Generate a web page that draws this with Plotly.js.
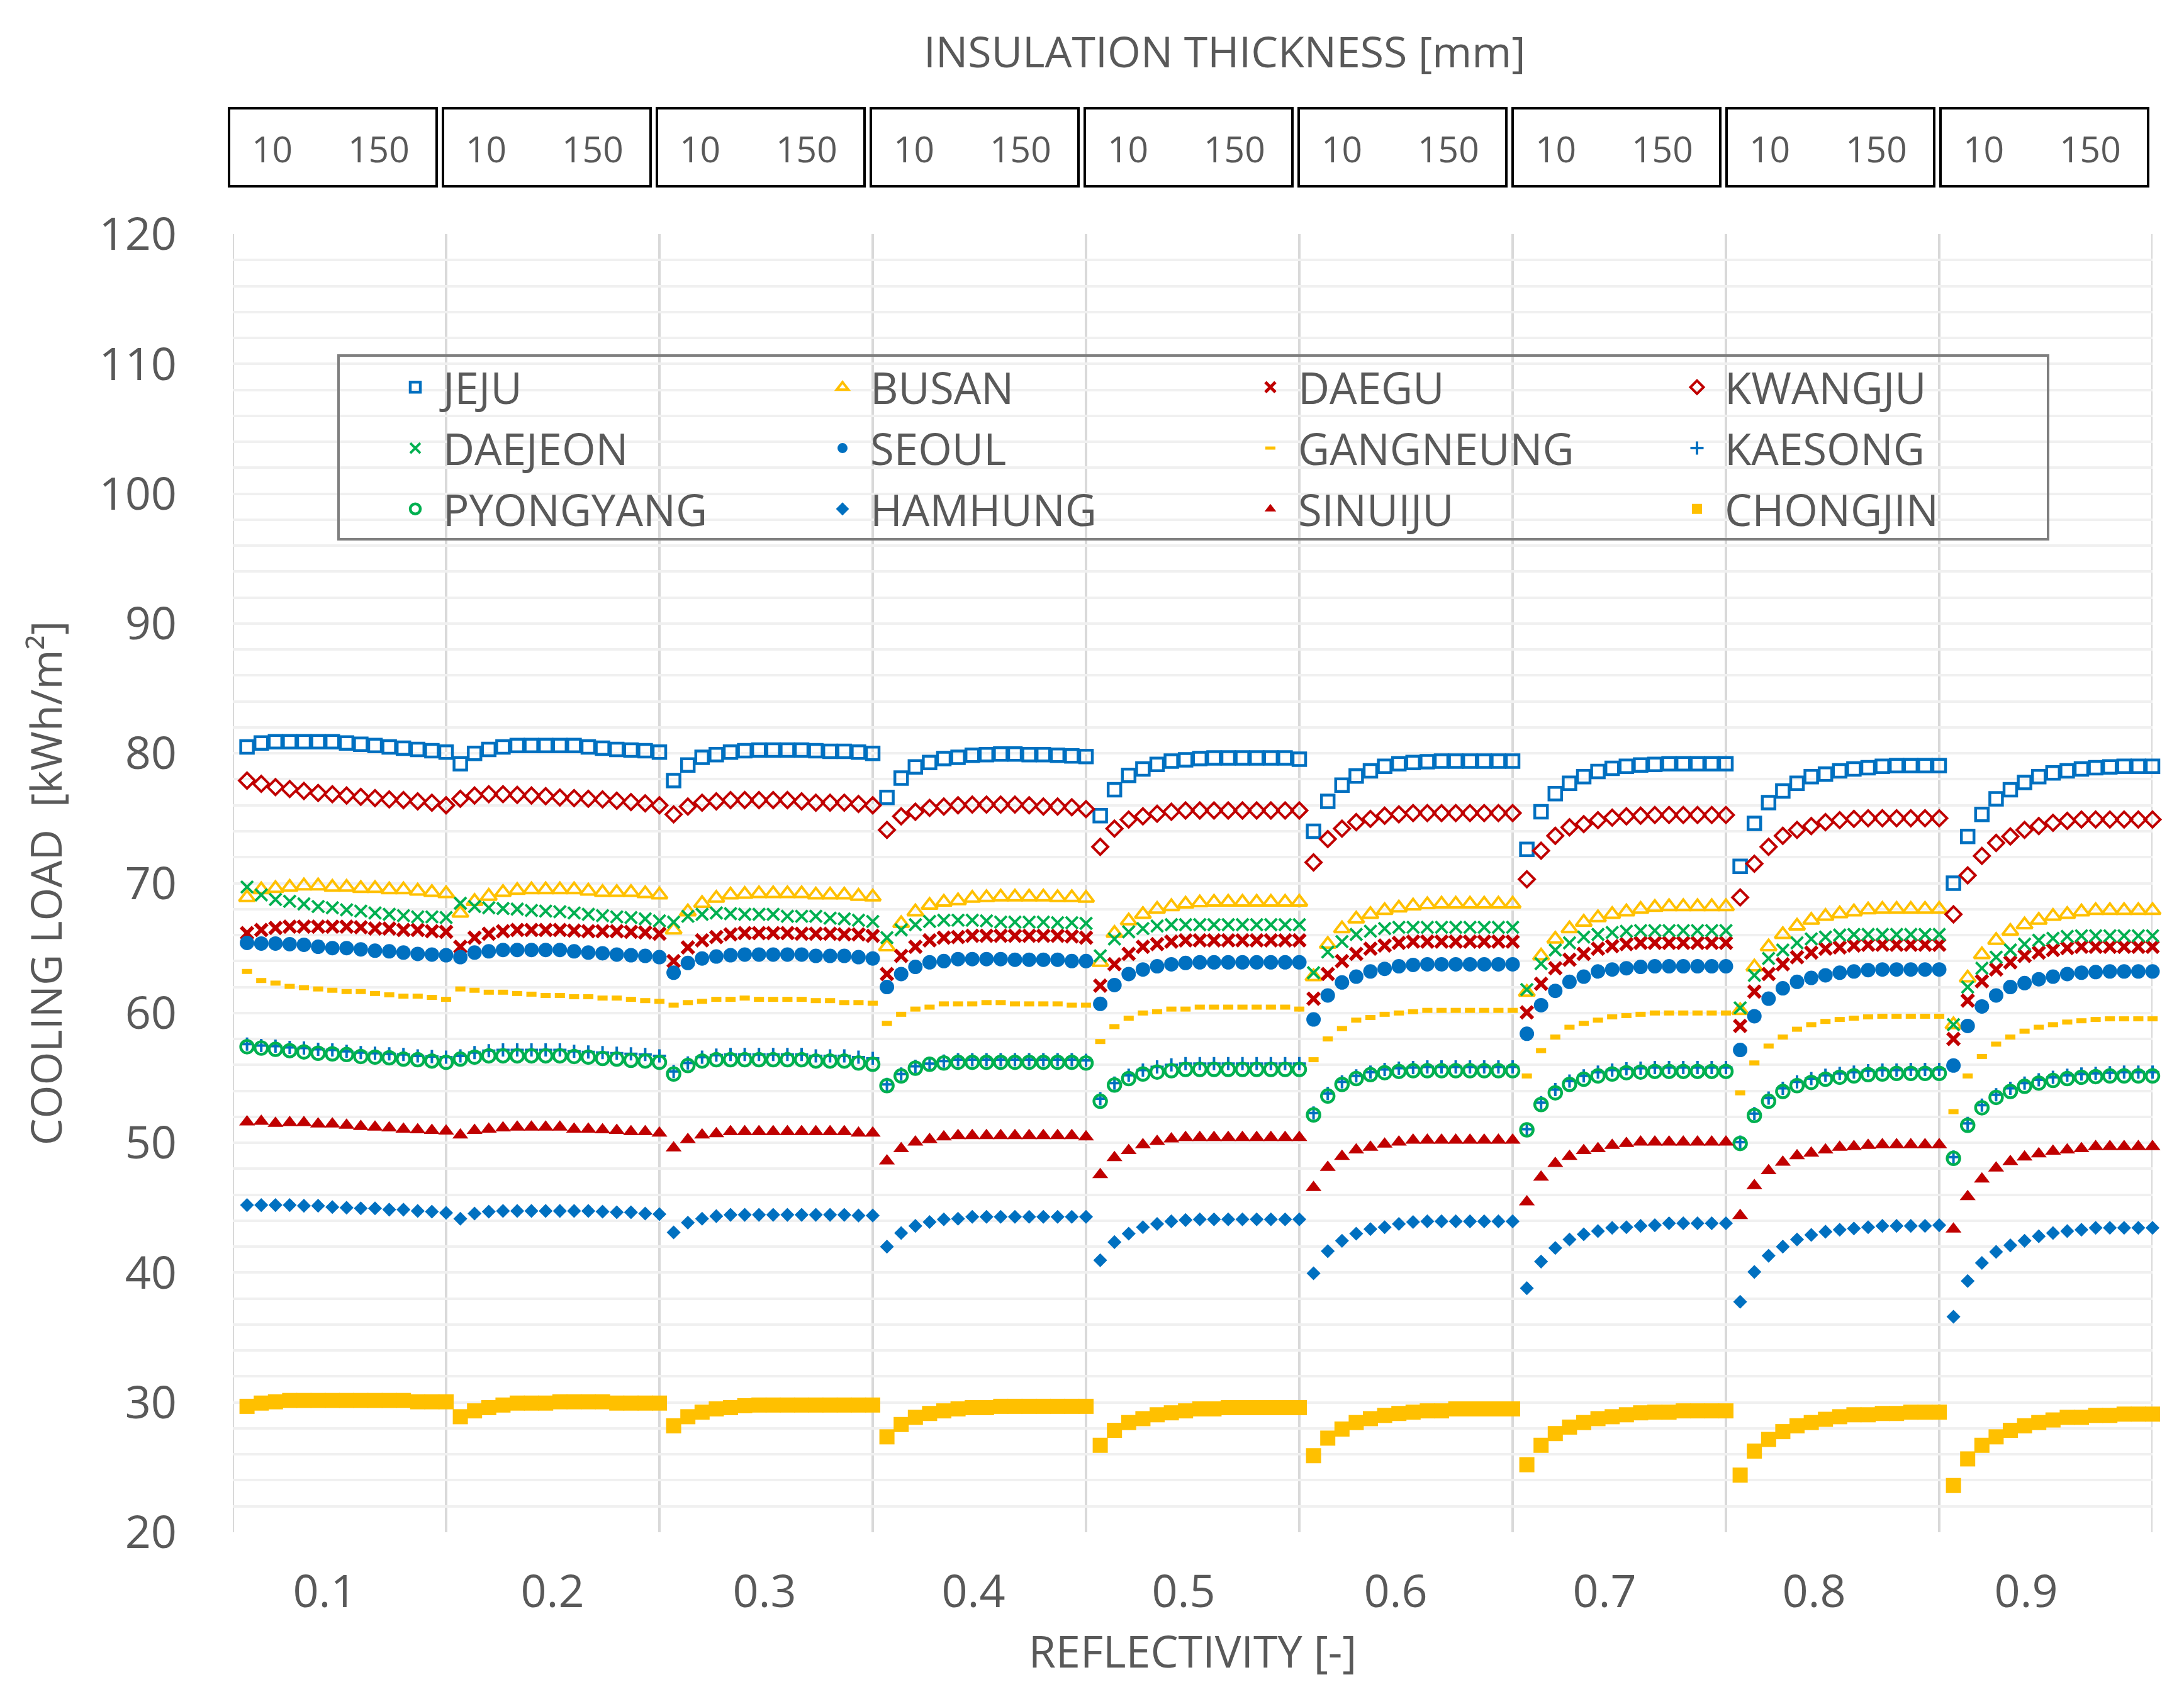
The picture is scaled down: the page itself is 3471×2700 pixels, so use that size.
<!DOCTYPE html>
<html><head><meta charset="utf-8">
<script src="https://cdn.plot.ly/plotly-3.0.1.min.js"></script>
<style>html,body{margin:0;padding:0;background:#fff}#chart{width:3471px;height:2700px}</style>
</head><body><div id="chart"></div>
<script>
// ---------------- DATA ----------------
const reflectivity = ['0.1','0.2','0.3','0.4','0.5','0.6','0.7','0.8','0.9'];
const thicknessLabels = ['10','150'];
const pointsPerGroup = 15; // 10..150 mm in 10 mm steps

const JEJU = [
80.5,80.8,80.9,80.9,80.9,80.9,80.9,80.8,80.7,80.6,80.5,80.4,80.3,80.2,80.1,
79.2,80.0,80.3,80.5,80.6,80.6,80.6,80.6,80.6,80.5,80.4,80.3,80.25,80.2,80.1,
77.9,79.1,79.7,79.9,80.1,80.2,80.25,80.25,80.25,80.25,80.2,80.15,80.15,80.1,80.0,
76.6,78.1,78.95,79.3,79.6,79.7,79.85,79.9,79.95,79.95,79.9,79.9,79.85,79.8,79.75,
75.2,77.2,78.3,78.8,79.15,79.4,79.5,79.6,79.65,79.65,79.65,79.65,79.65,79.65,79.55,
74.0,76.3,77.55,78.25,78.65,79.0,79.2,79.3,79.35,79.4,79.4,79.4,79.4,79.4,79.4,
72.6,75.5,76.9,77.7,78.2,78.6,78.85,79.0,79.1,79.15,79.2,79.2,79.2,79.2,79.2,
71.3,74.6,76.2,77.1,77.7,78.2,78.4,78.65,78.8,78.9,79.0,79.05,79.05,79.05,79.05,
70.0,73.6,75.3,76.5,77.2,77.75,78.2,78.5,78.65,78.8,78.9,78.95,79.0,79.0,79.0];

const BUSAN = [
68.9,69.5,69.6,69.7,69.8,69.8,69.7,69.7,69.6,69.6,69.5,69.5,69.4,69.3,69.2,
67.7,68.6,69.0,69.3,69.45,69.5,69.5,69.5,69.5,69.4,69.3,69.3,69.3,69.2,69.1,
66.4,67.8,68.45,68.85,69.1,69.15,69.2,69.2,69.2,69.2,69.1,69.1,69.1,69.0,68.95,
65.1,66.9,67.8,68.3,68.55,68.65,68.85,68.9,68.95,68.95,68.95,68.95,68.9,68.9,68.85,
63.9,66.15,67.1,67.6,68.0,68.2,68.4,68.5,68.55,68.55,68.55,68.55,68.55,68.55,68.55,
62.8,65.3,66.5,67.25,67.6,67.9,68.1,68.25,68.35,68.4,68.4,68.4,68.4,68.4,68.4,
61.6,64.4,65.7,66.5,67.0,67.35,67.6,67.8,68.0,68.15,68.2,68.2,68.2,68.2,68.2,
60.2,63.55,65.1,66.05,66.7,67.15,67.45,67.65,67.8,67.95,68.0,68.0,68.0,68.0,68.0,
59.1,62.7,64.5,65.6,66.3,66.8,67.15,67.45,67.6,67.8,67.9,67.9,67.9,67.9,67.9];

const DAEGU = [
66.15,66.4,66.55,66.65,66.65,66.65,66.65,66.65,66.6,66.5,66.5,66.4,66.4,66.3,66.25,
65.1,65.8,66.1,66.3,66.4,66.4,66.4,66.4,66.35,66.3,66.3,66.3,66.25,66.2,66.1,
64.0,65.05,65.6,65.85,66.05,66.15,66.15,66.15,66.15,66.1,66.1,66.1,66.05,66.05,65.95,
63.0,64.4,65.1,65.6,65.8,65.85,65.95,65.95,65.95,65.95,65.95,65.95,65.95,65.9,65.8,
62.1,63.75,64.55,65.1,65.3,65.5,65.6,65.6,65.6,65.6,65.6,65.6,65.6,65.6,65.6,
61.1,63.0,64.0,64.55,64.95,65.2,65.4,65.5,65.5,65.5,65.5,65.5,65.5,65.5,65.5,
60.05,62.25,63.45,64.1,64.55,64.95,65.15,65.3,65.4,65.4,65.4,65.4,65.4,65.4,65.4,
59.0,61.65,63.0,63.75,64.3,64.65,64.95,65.05,65.2,65.25,65.25,65.25,65.25,65.25,65.25,
58.0,60.95,62.45,63.35,63.9,64.4,64.65,64.85,65.0,65.1,65.1,65.1,65.1,65.1,65.1];

const KWANGJU = [
77.9,77.65,77.4,77.25,77.1,76.95,76.85,76.75,76.65,76.55,76.45,76.4,76.3,76.2,76.0,
76.5,76.75,76.85,76.85,76.8,76.75,76.7,76.6,76.55,76.5,76.45,76.35,76.25,76.15,76.0,
75.3,75.9,76.2,76.3,76.4,76.4,76.4,76.4,76.4,76.3,76.2,76.2,76.2,76.1,76.0,
74.1,75.15,75.5,75.8,75.9,76.0,76.05,76.05,76.05,76.05,76.0,75.9,75.9,75.85,75.7,
72.8,74.2,74.9,75.15,75.35,75.5,75.6,75.6,75.6,75.6,75.6,75.6,75.6,75.6,75.6,
71.6,73.4,74.2,74.7,74.95,75.2,75.3,75.4,75.4,75.4,75.4,75.4,75.4,75.4,75.4,
70.3,72.5,73.65,74.3,74.55,74.85,75.05,75.15,75.2,75.25,75.25,75.25,75.25,75.25,75.25,
68.9,71.5,72.8,73.65,74.1,74.4,74.7,74.85,74.95,75.0,75.0,75.0,75.0,75.0,75.0,
67.6,70.6,72.1,73.1,73.6,74.1,74.4,74.65,74.8,74.9,74.9,74.9,74.9,74.9,74.9];

const DAEJEON = [
69.7,69.1,68.75,68.6,68.4,68.2,68.1,67.95,67.85,67.7,67.6,67.5,67.4,67.4,67.35,
68.45,68.2,68.1,68.05,68.0,67.9,67.85,67.8,67.7,67.6,67.5,67.4,67.35,67.25,67.1,
67.0,67.45,67.6,67.7,67.65,67.6,67.6,67.6,67.45,67.45,67.45,67.3,67.25,67.15,67.05,
65.8,66.4,66.8,67.05,67.15,67.15,67.15,67.1,67.0,67.0,67.0,67.0,66.95,66.95,66.9,
64.4,65.7,66.25,66.5,66.7,66.8,66.8,66.8,66.8,66.8,66.8,66.8,66.8,66.8,66.8,
63.1,64.7,65.5,66.05,66.3,66.5,66.6,66.6,66.6,66.6,66.6,66.6,66.6,66.6,66.6,
61.8,63.8,64.85,65.4,65.85,66.05,66.2,66.3,66.35,66.35,66.35,66.35,66.35,66.35,66.35,
60.4,62.9,64.2,64.85,65.4,65.7,65.85,66.0,66.05,66.05,66.05,66.05,66.05,66.05,66.05,
59.1,62.0,63.45,64.3,64.85,65.3,65.6,65.75,65.9,65.95,65.95,65.95,65.95,65.95,65.95];

const SEOUL = [
65.4,65.35,65.35,65.3,65.25,65.1,65.0,65.0,64.9,64.8,64.75,64.65,64.55,64.5,64.45,
64.3,64.65,64.75,64.85,64.85,64.85,64.85,64.85,64.75,64.65,64.6,64.5,64.45,64.4,64.3,
63.1,63.85,64.2,64.35,64.45,64.5,64.5,64.5,64.5,64.5,64.4,64.4,64.4,64.3,64.2,
62.0,63.0,63.55,63.9,64.0,64.15,64.15,64.15,64.15,64.1,64.1,64.1,64.1,64.0,64.0,
60.7,62.15,63.0,63.35,63.6,63.75,63.85,63.9,63.9,63.9,63.9,63.9,63.9,63.9,63.9,
59.5,61.35,62.35,62.8,63.2,63.4,63.6,63.7,63.75,63.75,63.75,63.75,63.75,63.75,63.75,
58.4,60.6,61.7,62.4,62.8,63.2,63.35,63.45,63.55,63.6,63.6,63.6,63.6,63.6,63.6,
57.15,59.75,61.1,61.9,62.4,62.7,62.9,63.1,63.2,63.3,63.35,63.35,63.35,63.35,63.35,
55.95,59.0,60.5,61.35,62.0,62.3,62.6,62.8,63.0,63.1,63.15,63.2,63.2,63.2,63.2];

const GANGNEUNG = [
63.2,62.5,62.3,62.05,61.95,61.85,61.75,61.65,61.65,61.5,61.4,61.3,61.3,61.2,61.05,
61.85,61.75,61.6,61.6,61.5,61.45,61.35,61.35,61.25,61.25,61.15,61.15,61.05,60.95,60.9,
60.6,60.8,60.9,61.05,61.05,61.15,61.05,61.05,61.05,61.05,60.95,60.95,60.8,60.8,60.75,
59.2,59.9,60.3,60.45,60.7,60.7,60.7,60.8,60.8,60.7,60.7,60.7,60.7,60.6,60.6,
57.8,58.95,59.6,60.0,60.1,60.3,60.3,60.45,60.45,60.45,60.45,60.45,60.45,60.45,60.3,
56.4,58.0,58.8,59.45,59.65,59.9,60.0,60.1,60.2,60.2,60.2,60.2,60.2,60.2,60.2,
55.15,57.1,58.15,58.9,59.2,59.45,59.7,59.8,59.9,60.0,60.0,60.0,60.0,60.0,60.0,
53.85,56.15,57.45,58.15,58.75,59.1,59.35,59.5,59.6,59.7,59.75,59.75,59.75,59.75,59.75,
52.4,55.15,56.65,57.6,58.15,58.6,58.9,59.1,59.3,59.4,59.5,59.55,59.55,59.55,59.55];

const KAESONG = [
57.6,57.5,57.45,57.35,57.3,57.2,57.15,57.05,56.95,56.9,56.85,56.8,56.7,56.65,56.6,
56.7,56.95,57.1,57.15,57.15,57.15,57.15,57.15,57.05,57.0,56.95,56.9,56.85,56.8,56.7,
55.5,56.15,56.6,56.75,56.8,56.8,56.8,56.8,56.8,56.8,56.7,56.7,56.7,56.6,56.5,
54.5,55.3,55.9,56.1,56.3,56.4,56.4,56.4,56.4,56.4,56.4,56.4,56.4,56.4,56.35,
53.4,54.6,55.2,55.6,55.85,56.0,56.1,56.1,56.1,56.1,56.1,56.1,56.1,56.1,56.1,
52.3,53.8,54.7,55.15,55.45,55.65,55.75,55.8,55.85,55.85,55.85,55.85,55.85,55.85,55.85,
51.05,53.1,54.1,54.75,55.15,55.45,55.6,55.7,55.75,55.8,55.8,55.8,55.8,55.8,55.8,
50.05,52.25,53.45,54.2,54.7,54.95,55.2,55.35,55.45,55.55,55.6,55.6,55.65,55.65,55.65,
48.9,51.5,52.9,53.7,54.2,54.6,54.85,55.05,55.2,55.3,55.35,55.4,55.45,55.45,55.45];

const PYONGYANG = [
57.4,57.3,57.2,57.1,57.0,56.9,56.85,56.8,56.65,56.6,56.55,56.45,56.4,56.3,56.2,
56.45,56.6,56.7,56.7,56.7,56.7,56.7,56.7,56.65,56.6,56.5,56.45,56.35,56.3,56.2,
55.3,55.95,56.3,56.4,56.4,56.4,56.4,56.4,56.4,56.4,56.3,56.3,56.3,56.15,56.05,
54.4,55.15,55.75,56.05,56.15,56.2,56.2,56.2,56.2,56.2,56.2,56.2,56.2,56.2,56.15,
53.2,54.45,54.95,55.3,55.45,55.55,55.65,55.65,55.65,55.65,55.65,55.65,55.65,55.65,55.65,
52.15,53.6,54.5,54.95,55.25,55.4,55.5,55.55,55.55,55.55,55.55,55.55,55.55,55.55,55.55,
51.0,52.95,53.85,54.5,54.9,55.15,55.3,55.4,55.45,55.5,55.5,55.5,55.5,55.5,55.5,
49.95,52.1,53.2,53.95,54.4,54.65,54.9,55.05,55.15,55.25,55.3,55.35,55.35,55.35,55.35,
48.8,51.35,52.7,53.5,53.95,54.35,54.6,54.8,54.95,55.05,55.1,55.15,55.15,55.15,55.15];

const HAMHUNG = [
45.2,45.2,45.2,45.2,45.15,45.15,45.05,45.0,44.95,44.95,44.85,44.85,44.75,44.7,44.6,
44.15,44.55,44.7,44.75,44.75,44.75,44.75,44.75,44.75,44.75,44.7,44.65,44.65,44.55,44.5,
43.1,43.85,44.15,44.35,44.45,44.45,44.45,44.45,44.45,44.45,44.45,44.45,44.45,44.4,44.4,
42.0,43.05,43.6,43.9,44.1,44.15,44.3,44.3,44.3,44.3,44.3,44.3,44.3,44.3,44.3,
40.95,42.35,43.0,43.5,43.75,43.95,44.05,44.1,44.1,44.1,44.1,44.1,44.1,44.1,44.1,
39.95,41.65,42.45,43.0,43.35,43.5,43.75,43.9,43.95,43.95,43.95,43.95,43.95,43.95,43.95,
38.8,40.85,41.9,42.55,42.95,43.2,43.45,43.5,43.6,43.65,43.8,43.8,43.8,43.8,43.8,
37.75,40.05,41.3,42.0,42.55,42.9,43.15,43.3,43.4,43.5,43.6,43.6,43.6,43.6,43.65,
36.6,39.35,40.75,41.6,42.1,42.45,42.8,43.05,43.2,43.3,43.45,43.45,43.45,43.45,43.45];

const SINUIJU = [
51.6,51.65,51.5,51.55,51.55,51.45,51.45,51.35,51.25,51.2,51.15,51.05,51.0,50.95,50.9,
50.6,50.95,51.05,51.15,51.2,51.2,51.2,51.2,51.05,51.05,51.0,50.95,50.85,50.85,50.75,
49.6,50.25,50.6,50.7,50.85,50.85,50.85,50.85,50.85,50.85,50.85,50.85,50.85,50.75,50.75,
48.6,49.55,50.05,50.25,50.45,50.55,50.55,50.55,50.55,50.55,50.55,50.55,50.55,50.55,50.45,
47.55,48.85,49.4,49.85,50.1,50.3,50.4,50.4,50.4,50.4,50.4,50.4,50.4,50.4,50.4,
46.55,48.1,48.95,49.45,49.65,49.9,50.05,50.2,50.2,50.2,50.2,50.2,50.2,50.2,50.2,
45.45,47.35,48.4,48.95,49.4,49.55,49.8,49.95,50.05,50.05,50.05,50.05,50.05,50.05,50.05,
44.4,46.7,47.85,48.5,49.0,49.2,49.45,49.65,49.7,49.8,49.85,49.85,49.85,49.85,49.85,
43.35,45.85,47.2,48.05,48.55,48.9,49.15,49.35,49.45,49.55,49.7,49.7,49.7,49.7,49.7];

const CHONGJIN = [
29.7,29.95,30.05,30.15,30.15,30.15,30.15,30.15,30.15,30.15,30.15,30.15,30.05,30.05,30.05,
28.9,29.35,29.6,29.8,29.95,29.95,29.95,30.05,30.05,30.05,30.05,29.95,29.95,29.95,29.95,
28.2,28.9,29.25,29.5,29.6,29.75,29.8,29.8,29.8,29.8,29.8,29.8,29.8,29.8,29.8,
27.35,28.3,28.85,29.15,29.35,29.5,29.6,29.6,29.7,29.7,29.7,29.7,29.7,29.7,29.7,
26.7,27.85,28.45,28.75,29.05,29.2,29.35,29.5,29.5,29.6,29.6,29.6,29.6,29.6,29.6,
25.9,27.25,27.95,28.45,28.75,29.0,29.15,29.25,29.35,29.35,29.5,29.5,29.5,29.5,29.5,
25.2,26.7,27.6,28.1,28.45,28.75,28.9,29.05,29.2,29.25,29.25,29.35,29.35,29.35,29.35,
24.4,26.25,27.15,27.75,28.2,28.45,28.7,28.9,29.05,29.05,29.15,29.15,29.25,29.25,29.25,
23.6,25.65,26.7,27.35,27.85,28.2,28.45,28.65,28.85,28.85,29.0,29.0,29.1,29.1,29.1];

// ---------------- STYLE ----------------
const BLUE = '#0070C0', GOLD = '#FFC000', RED = '#C00000', GREEN = '#00B050';
const TXT = '#595959';
const FONT = '"Open Sans", "Noto Sans", Arial, sans-serif';

const series = [
  {name:'JEJU',      y:JEJU,      legend:'legend',  marker:{symbol:'square-open', size:20, color:BLUE, line:{color:BLUE, width:4.5}}},
  {name:'BUSAN',     y:BUSAN,     legend:'legend2', marker:{symbol:'triangle-up-open', size:22, color:GOLD, line:{color:GOLD, width:4}}},
  {name:'DAEGU',     y:DAEGU,     legend:'legend3', marker:{symbol:'x-thin-open', size:19, color:RED, line:{color:RED, width:6}}},
  {name:'KWANGJU',   y:KWANGJU,   legend:'legend4', marker:{symbol:'diamond-open', size:19, color:RED, line:{color:RED, width:4}}},
  {name:'DAEJEON',   y:DAEJEON,   legend:'legend',  marker:{symbol:'x-thin-open', size:19, color:GREEN, line:{color:GREEN, width:4}}},
  {name:'SEOUL',     y:SEOUL,     legend:'legend2', marker:{symbol:'circle', size:23, color:BLUE, line:{width:0}}},
  {name:'GANGNEUNG', y:GANGNEUNG, legend:'legend3', marker:{symbol:'line-ew-open', size:11.5, color:GOLD, line:{color:GOLD, width:8}}},
  {name:'KAESONG',   y:KAESONG,   legend:'legend4', marker:{symbol:'cross-thin-open', size:15, color:BLUE, line:{color:BLUE, width:4}}},
  {name:'PYONGYANG', y:PYONGYANG, legend:'legend',  marker:{symbol:'circle-open', size:20, color:GREEN, line:{color:GREEN, width:4.5}}},
  {name:'HAMHUNG',   y:HAMHUNG,   legend:'legend2', marker:{symbol:'diamond', size:17, color:BLUE, line:{width:0}}},
  {name:'SINUIJU',   y:SINUIJU,   legend:'legend3', marker:{symbol:'triangle-up', size:22, color:RED, line:{width:0}}},
  {name:'CHONGJIN',  y:CHONGJIN,  legend:'legend4', marker:{symbol:'square', size:24, color:GOLD, line:{width:0}}}
];

// ---------------- GEOMETRY (pixels) ----------------
const WIDTH = 3471, HEIGHT = 2700;
const L = 370, R = 3421, T = 372, B = 2435;
const PW = R - L, PH = B - T;
const px = v => (v - L) / PW;
const py = v => (B - v) / PH;
const nGroups = reflectivity.length;
const nPts = nGroups * pointsPerGroup;
// horizontal pixel centres of the reflectivity labels as placed in the original
const reflLabelPx = [516, 878, 1215, 1547, 1881, 2218, 2550, 2883, 3220];

const traces = series.map((s, i) => ({
  type: 'scatter', mode: 'markers', name: s.name,
  x: s.y.map((_, j) => j + 1), y: s.y,
  marker: s.marker, legend: s.legend, legendgroup: 'g' + i,
  hoverinfo: 'name+y', cliponaxis: false
}));

const shapes = [];
const annotations = [];
// vertical separators between reflectivity groups
for (let k = 0; k <= nGroups; k++) {
  shapes.push({type:'line', xref:'x', yref:'paper', x0:k*pointsPerGroup, x1:k*pointsPerGroup, y0:0, y1:1,
    line:{color:'#d9d9d9', width:4}, layer:'below'});
}
// insulation thickness boxes along the top
for (let k = 0; k < nGroups; k++) {
  const x0 = 364 + 340 * k, x1 = x0 + 330;
  shapes.push({type:'rect', xref:'paper', yref:'paper', x0:px(x0), x1:px(x1), y0:py(296), y1:py(172),
    line:{color:'#000000', width:4}, fillcolor:'rgba(0,0,0,0)'});
  annotations.push({xref:'paper', yref:'paper', x:px(x0 + 68), y:py(236), text:thicknessLabels[0], showarrow:false,
    xanchor:'center', yanchor:'middle', font:{family:FONT, size:57, color:TXT}});
  annotations.push({xref:'paper', yref:'paper', x:px(x0 + 238), y:py(236), text:thicknessLabels[1], showarrow:false,
    xanchor:'center', yanchor:'middle', font:{family:FONT, size:57, color:TXT}});
}
annotations.push({xref:'paper', yref:'paper', x:px(1946), y:py(80), text:'INSULATION THICKNESS [mm]', showarrow:false,
  xanchor:'center', yanchor:'middle', font:{family:FONT, size:68, color:TXT}});
// legend frame
shapes.push({type:'rect', xref:'paper', yref:'paper', x0:px(538), x1:px(3255), y0:py(857), y1:py(565),
  line:{color:'#7f7f7f', width:4}, fillcolor:'rgba(0,0,0,0)', layer:'above'});

const legendBase = (xPix) => ({
  x: px(xPix), y: py(564), xanchor:'left', yanchor:'top', orientation:'v',
  bgcolor:'rgba(0,0,0,0)', borderwidth:0, itemwidth:78, tracegroupgap:4,
  font:{family:FONT, size:69, color:TXT}
});

const layout = {
  width: WIDTH, height: HEIGHT,
  margin: {l:L, r:WIDTH - R, t:T, b:HEIGHT - B, pad:0},
  paper_bgcolor:'#ffffff', plot_bgcolor:'#ffffff',
  font:{family:FONT, color:TXT},
  showlegend: true,
  legend: legendBase(616),
  legend2: legendBase(1295),
  legend3: legendBase(1975),
  legend4: legendBase(2653),
  xaxis: {
    range:[0, nPts], tickmode:'array',
    tickvals: reflLabelPx.map(p => (p - L) / PW * nPts),
    ticktext: reflectivity, showgrid:false, zeroline:false, showline:false, ticks:'',
    ticklabelstandoff: 46,
    tickfont:{family:FONT, size:72, color:TXT},
    title:{text:'REFLECTIVITY [-]', font:{family:FONT, size:70, color:TXT}, standoff:26}
  },
  yaxis: {
    range:[20, 120], tick0:20, dtick:10, ticks:'', zeroline:false, showline:false,
    showgrid:true, gridcolor:'#f0f0f0', gridwidth:4,
    minor:{dtick:2, showgrid:true, gridcolor:'#f0f0f0', gridwidth:4, ticks:''},
    ticklabelstandoff: 88,
    tickfont:{family:FONT, size:72, color:TXT},
    title:{text:'COOLING LOAD  [kWh/m²]', font:{family:FONT, size:68, color:TXT}, standoff:36}
  },
  shapes, annotations
};

Plotly.newPlot('chart', traces, layout, {displayModeBar:false, staticPlot:true});
</script>
</body></html>
